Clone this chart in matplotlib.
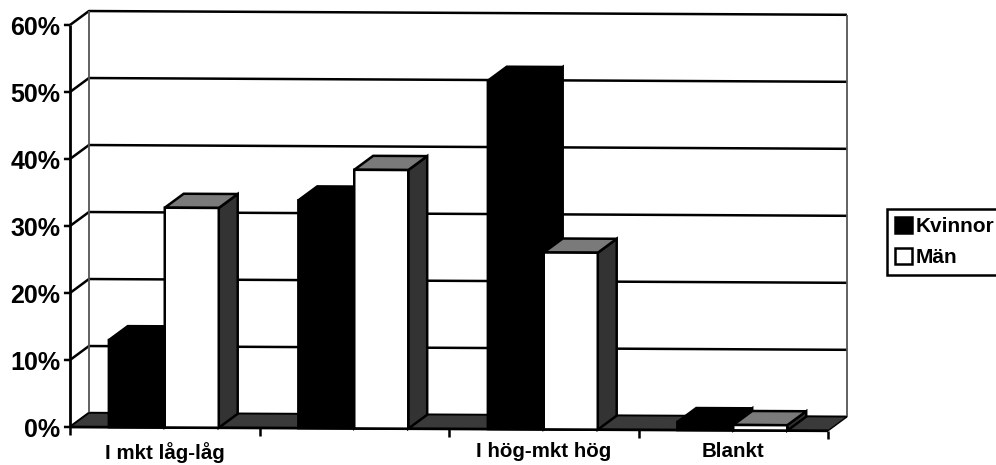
import numpy as np
import matplotlib
matplotlib.use('Agg')
import matplotlib.pyplot as plt
from matplotlib.patches import Patch
from matplotlib.transforms import Affine2D

categories = ['I mkt låg-låg', '', 'I hög-mkt hög', 'Blankt']
kvinnor = [13, 34, 52, 1.2]
man = [32.8, 38.6, 26.4, 0.8]
yticks = [0, 10, 20, 30, 40, 50, 60]

plt.rcParams['font.family'] = ['Liberation Sans', 'DejaVu Sans']
plt.rcParams['font.weight'] = 'bold'

W, H = 996, 465
fig = plt.figure(figsize=(W / 100, H / 100), dpi=100)
ax = fig.add_axes([70 / W, 1 - 427 / H, 758 / W, 402 / H])
ax.set_xlim(0, 4)
ax.set_ylim(0, 60)
ax.patch.set_visible(False)
for s in ax.spines.values():
    s.set_visible(False)

# the scan is slightly tilted, lines fall about 4 px from left to right
tilt = Affine2D().translate(-70, 0).skew(0, -np.arctan(0.005)).translate(70, 0)
tr = ax.transData + tilt

dx, dy = 0.1, 2.1
lw = 1.8
side_grey = '#333333'
top_grey = '#7a7a7a'
floor_grey = '#3a3a3a'


def line(xs, ys, color='black', width=lw, z=2):
    ax.plot(xs, ys, color=color, lw=width, transform=tr, clip_on=False, zorder=z,
            solid_capstyle='butt')


def bar3d(x0, x1, v, face, z):
    # side and top first, front face on top of them
    ax.fill([x1, x1 + dx, x1 + dx, x1], [0, dy, v + dy, v], facecolor=side_grey if face == 'white' else 'black',
            edgecolor='black', lw=lw, transform=tr, clip_on=False, zorder=z)
    ax.fill([x0, x0 + dx, x1 + dx, x1], [v, v + dy, v + dy, v], facecolor=top_grey if face == 'white' else 'black',
            edgecolor='black', lw=lw, transform=tr, clip_on=False, zorder=z)
    ax.bar(x0, v, x1 - x0, align='edge', color=face, edgecolor='black', lw=lw, transform=tr,
           clip_on=False, zorder=z + 0.1)


# back wall
for t in yticks:
    line([0, dx, 4 + dx], [t, t + dy, t + dy])
    line([-0.032, 0], [t, t])
line([dx, dx], [dy, 60 + dy], color='#555555', width=1.3)
line([4 + dx, 4 + dx], [dy, 60 + dy], color='#555555', width=1.3)
line([0, 0], [0, 60], width=2)

# floor
ax.fill([0, dx, 4 + dx, 4], [0, dy, dy, 0], facecolor=floor_grey, edgecolor='black', lw=1,
        transform=tr, clip_on=False, zorder=3)
line([0, 4], [0, 0], z=3.5, width=2)
for t in range(5):
    line([t, t], [0, -1.2], z=3.5)

for i in range(len(categories)):
    bar3d(i + 0.205, i + 0.5, kvinnor[i], 'black', 4 + i)
    bar3d(i + 0.5, i + 0.785, man[i], 'white', 4.3 + i)

ax.set_yticks(yticks)
ax.set_yticklabels([f'{t}%' for t in yticks], fontsize=18, fontweight='bold')
ax.set_xticks(np.arange(len(categories)) + 0.5)
ax.set_xticklabels(categories, fontsize=14.8, fontweight='bold')
ax.tick_params(axis='both', length=0)
ax.tick_params(axis='y', pad=7)
ax.tick_params(axis='x', pad=11)

handles = [Patch(facecolor='black', edgecolor='black', lw=1.8),
           Patch(facecolor='white', edgecolor='black', lw=1.8)]
leg = fig.legend(handles, ['Kvinnor', 'Män'], loc='upper left',
                 bbox_to_anchor=(887 / W, 1 - 209 / H), bbox_transform=fig.transFigure,
                 fontsize=15, frameon=True, fancybox=False, framealpha=1, edgecolor='black',
                 borderaxespad=0, borderpad=0.38, handlelength=0.8, handleheight=0.8,
                 handletextpad=0.2, labelspacing=0.55)
leg.get_frame().set_linewidth(1.8)

fig.savefig('out.png', dpi=100)
